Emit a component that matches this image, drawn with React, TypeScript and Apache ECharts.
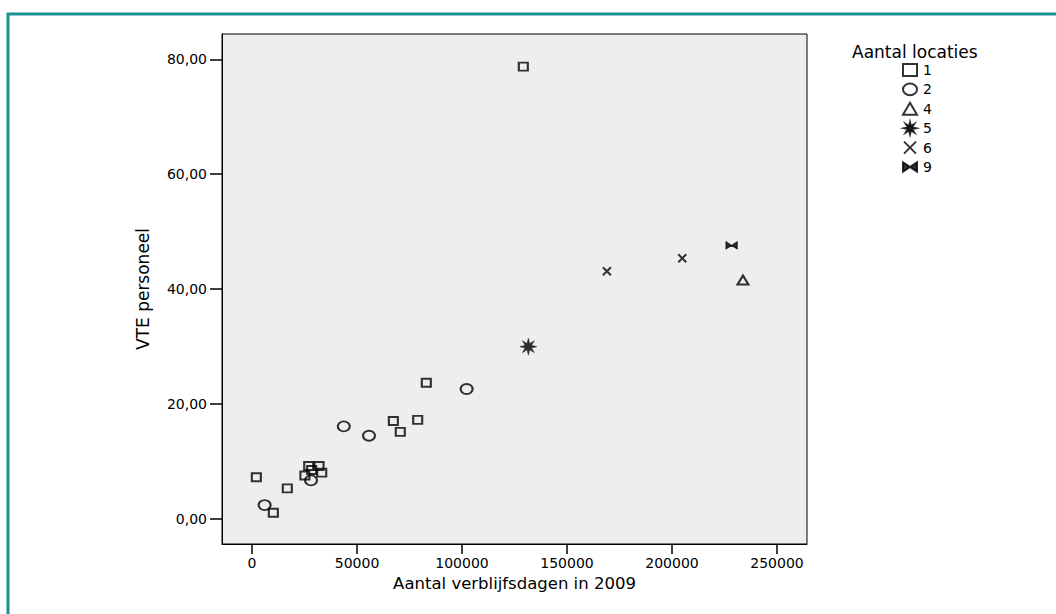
import React, { useEffect, useRef } from "react";
import * as echarts from "echarts";

// Aantal verblijfsdagen in 2009 (x) and VTE personeel (y), per number of locations
const loc1X = [129200, 83000, 67300, 78900, 70600, 2050, 16800, 10150, 27000, 31900, 28400, 25200, 33200];
const loc1Y = [78.75, 23.67, 17.0, 17.2, 15.1, 7.2, 5.25, 1.0, 9.15, 9.15, 8.45, 7.5, 8.0];
const loc2X = [102200, 43700, 55700, 28100, 6000];
const loc2Y = [22.57, 16.07, 14.43, 6.65, 2.35];
const loc4X = [233800];
const loc4Y = [41.57];
const loc5X = [131600];
const loc5Y = [29.95];
const loc6X = [169000, 204900];
const loc6Y = [43.08, 45.35];
const loc9X = [228400];
const loc9Y = [47.6];

const categories = ["1", "2", "4", "5", "6", "9"];
const xTicks = [0, 50000, 100000, 150000, 200000, 250000];
const yTicks = [0, 20, 40, 60, 80];

const FONT = "DejaVu Sans";

const zip = (xs: number[], ys: number[]) => xs.map((x, i) => [x, ys[i]]);

const STAR =
  "path://M20,10L13.7,11.53L17.07,17.07L11.53,13.7L10,20L8.47,13.7L2.93,17.07L6.3,11.53L0,10L6.3,8.47L2.93,2.93L8.47,6.3L10,0L11.53,6.3L17.07,2.93L13.7,8.47Z";
const ELLIPSE = "path://M0,5A6,5 0 1,1 12,5A6,5 0 1,1 0,5Z";
const CROSS = "path://M0,0L10,10M10,0L0,10";
const BOWTIE = "path://M0,0L6,4L0,8ZM12,0L6,4L12,8Z";

export default function App() {
  const ref = useRef<HTMLDivElement>(null);
  useEffect(() => {
    document.body.style.margin = "0";
    if (!ref.current) return;
    const chart = echarts.init(ref.current, undefined, { renderer: "svg" });
    const hollow = { color: "transparent", borderColor: "#000", borderWidth: 2 };
    const series: any[] = [
      { name: categories[0], data: zip(loc1X, loc1Y), symbol: "rect", symbolSize: [9, 8], itemStyle: hollow },
      { name: categories[1], data: zip(loc2X, loc2Y), symbol: ELLIPSE, symbolSize: [12, 10], itemStyle: hollow },
      { name: categories[2], data: zip(loc4X, loc4Y), symbol: "triangle", symbolSize: [11, 9], itemStyle: hollow },
      { name: categories[3], data: zip(loc5X, loc5Y), symbol: STAR, symbolSize: 17, itemStyle: { color: "#000", borderColor: "#000", borderWidth: 0.5 } },
      { name: categories[4], data: zip(loc6X, loc6Y), symbol: CROSS, symbolSize: 8, itemStyle: { color: "transparent", borderColor: "#000", borderWidth: 2 } },
      { name: categories[5], data: zip(loc9X, loc9Y), symbol: BOWTIE, symbolSize: [11, 7], itemStyle: { color: "#000", borderColor: "#000", borderWidth: 1 } },
    ].map((s) => ({ ...s, type: "scatter", emphasis: { disabled: true } }));

    chart.setOption({
      animation: false,
      textStyle: { fontFamily: FONT },
      graphic: [
        {
          type: "rect",
          shape: { x: 8, y: 14, width: 1060, height: 620 },
          style: { fill: "none", stroke: "#1a928f", lineWidth: 3 },
          silent: true,
        },
        {
          type: "text",
          left: 852,
          top: 43,
          style: { text: "Aantal locaties", font: `17px ${FONT}`, fill: "#000" },
        },
      ],
      legend: {
        orient: "vertical",
        left: 897,
        top: 58,
        itemWidth: 14,
        itemHeight: 12,
        itemGap: 5.4,
        textStyle: { fontFamily: FONT, fontSize: 14, color: "#000", padding: [0, 0, 0, 1] },
        data: categories,
      },
      grid: {
        left: 222,
        top: 34,
        width: 585,
        height: 510,
        show: true,
        backgroundColor: "#eeeeee",
        borderColor: "#000",
        borderWidth: 1,
      },
      xAxis: {
        type: "value",
        min: -14300,
        max: 264300,
        splitLine: { show: false },
        axisLine: { show: true, onZero: false, lineStyle: { color: "#000" } },
        axisTick: { show: true, length: 10, customValues: xTicks, lineStyle: { color: "#000", width: 1.5 } },
        axisLabel: {
          customValues: xTicks,
          margin: 12,
          fontFamily: FONT,
          fontSize: 14,
          color: "#000",
          formatter: (v: number) => String(Math.round(v)),
        },
        name: "Aantal verblijfsdagen in 2009",
        nameLocation: "middle",
        nameGap: 29,
        nameTextStyle: { fontFamily: FONT, fontSize: 16.5, color: "#000" },
      },
      yAxis: {
        type: "value",
        min: -4.44,
        max: 84.44,
        splitLine: { show: false },
        axisLine: { show: true, onZero: false, lineStyle: { color: "#000" } },
        axisTick: { show: true, length: 12, customValues: yTicks, lineStyle: { color: "#000", width: 1.5 } },
        axisLabel: {
          customValues: yTicks,
          margin: 15,
          fontFamily: FONT,
          fontSize: 14,
          color: "#000",
          formatter: (v: number) => v.toFixed(2).replace(".", ","),
        },
        name: "VTE personeel",
        nameLocation: "middle",
        nameGap: 71,
        nameTextStyle: { fontFamily: FONT, fontSize: 17, color: "#000" },
      },
      series,
    });
    return () => chart.dispose();
  }, []);
  return <div ref={ref} style={{ width: 1056, height: 614 }} />;
}
